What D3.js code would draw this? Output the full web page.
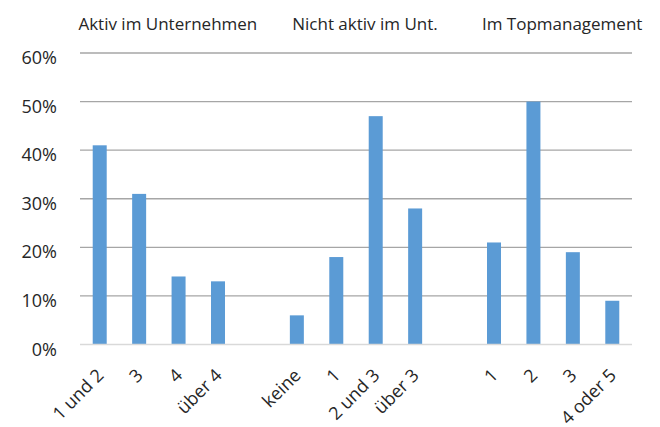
<!DOCTYPE html>
<html>
<head>
<meta charset="utf-8">
<script src="https://cdn.jsdelivr.net/npm/d3@7"></script>
<style>
  body { margin: 0; background: #fff; }
  text { font-family: "Open Sans", sans-serif; fill: #262626; }
</style>
</head>
<body>
<svg id="chart"></svg>
<script>
// categories, empty strings are the spacer slots between the groups
var categories = ["1 und 2", "3", "4", "über 4", "",
                  "keine", "1", "2 und 3", "über 3", "",
                  "1", "2", "3", "4 oder 5"];
var values = [41, 31, 14, 13, null,
              6, 18, 47, 28, null,
              21, 50, 19, 9];
var groups = ["Aktiv im Unternehmen", "Nicht aktiv im Unt.", "Im Topmanagement"];
var groupSlots = [[0, 3], [5, 8], [10, 13]];
var yTicks = [0, 10, 20, 30, 40, 50, 60];

var width = 660, height = 427
  , margin = {top: 53, right: 28, bottom: 82.5, left: 80};

var svg = d3.select("#chart")
    .attr("width", width)
    .attr("height", height);

var x = d3.scaleBand()
    .domain(d3.range(categories.length))
    .range([margin.left, width - margin.right])
    .paddingInner(0.645)
    .paddingOuter(0.3225);

var y = d3.scaleLinear()
    .domain([0, 60])
    .range([height - margin.bottom, margin.top]);

// gridlines
svg.append("g")
    .selectAll("line")
    .data(yTicks.filter(function(d){ return d > 0; }))
    .enter()
    .append("line")
        .attr("x1", margin.left)
        .attr("x2", width - margin.right)
        .attr("y1", function(d){ return y(d); })
        .attr("y2", function(d){ return y(d); })
        .attr("stroke", "#a6a6a6")
        .attr("stroke-width", 1.3);

// y labels
svg.append("g")
    .selectAll("text")
    .data(yTicks)
    .enter()
    .append("text")
        .attr("x", 57)
        .attr("y", function(d){ return y(d) + 11; })
        .attr("text-anchor", "end")
        .style("font-size", "18px")
        .text(function(d){ return d + "%"; });

// bars
var bars = values
    .map(function(v, i){ return {i: i, v: v}; })
    .filter(function(d){ return d.v !== null; });

svg.append("g")
    .selectAll("rect")
    .data(bars)
    .enter()
    .append("rect")
        .attr("x", function(d){ return x(d.i); })
        .attr("width", x.bandwidth())
        .attr("y", function(d){ return y(d.v); })
        .attr("height", function(d){ return y(0) - y(d.v); })
        .attr("fill", "#5b9bd5");

// baseline
svg.append("line")
    .attr("x1", margin.left)
    .attr("x2", width - margin.right)
    .attr("y1", y(0))
    .attr("y2", y(0))
    .attr("stroke", "#d9d9d9")
    .attr("stroke-width", 1.5);

// category labels, rotated
svg.append("g")
    .selectAll("text")
    .data(categories)
    .enter()
    .append("text")
        .attr("transform", function(d, i){
            return "translate(" + (x(i) + x.bandwidth() / 2 + 5) + "," + (y(0) + 32) + ") rotate(-45)";
        })
        .attr("text-anchor", "end")
        .style("font-size", "18px")
        .text(function(d){ return d; });

// group headers
svg.append("g")
    .selectAll("text")
    .data(groups)
    .enter()
    .append("text")
        .attr("x", function(d, i){
            var s = groupSlots[i];
            return (x(s[0]) + x(s[1]) + x.bandwidth()) / 2 + 9;
        })
        .attr("y", 29.5)
        .attr("text-anchor", "middle")
        .style("font-size", "17px")
        .text(function(d){ return d; });
</script>
</body>
</html>
